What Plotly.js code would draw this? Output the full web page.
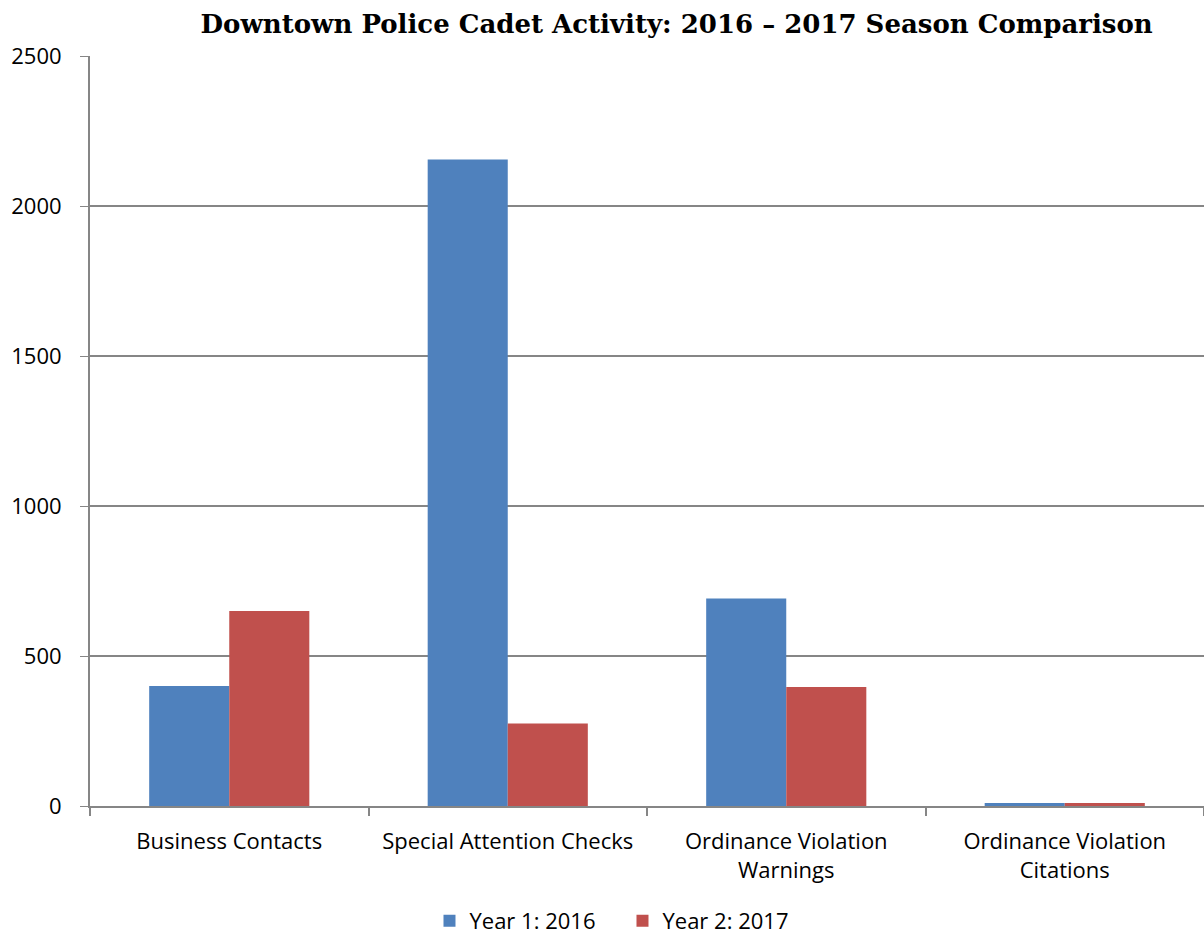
<!DOCTYPE html>
<html><head><meta charset="utf-8">
<script src="https://cdn.plot.ly/plotly-3.0.1.min.js"></script>
<style>html,body{margin:0;padding:0;background:#fff}#chart{width:1204px;height:942px}</style>
</head><body><div id="chart"></div>
<script>
var categories = ["Business Contacts", "Special Attention Checks", "Ordinance Violation<br>Warnings", "Ordinance Violation<br>Citations"];
var year2016 = [400, 2155, 692, 10];
var year2017 = [650, 275, 397, 10];
var seriesNames = ["Year 1: 2016", "Year 2: 2017"];
var yTicks = [0, 500, 1000, 1500, 2000, 2500];

var tickFont = {family: "Open Sans, Noto Sans, sans-serif", size: 22, color: "#000"};
var traces = [
  {type: "bar", name: seriesNames[0], x: categories, y: year2016, marker: {color: "#4F81BD"}},
  {type: "bar", name: seriesNames[1], x: categories, y: year2017, marker: {color: "#C0504D"}}
];
var layout = {
  width: 1204, height: 942,
  margin: {l: 90, r: 0, t: 56, b: 136},
  paper_bgcolor: "#fff", plot_bgcolor: "#fff",
  title: {text: "<b>Downtown Police Cadet Activity: 2016 – 2017 Season Comparison</b>",
          font: {family: "DejaVu Serif, Liberation Serif, serif", size: 26, color: "#000"},
          x: 0.562, xanchor: "center", y: 0.975, yanchor: "middle"},
  barmode: "group", bargap: 0.425, bargroupgap: 0,
  showlegend: true,
  legend: {orientation: "h", x: 0.478, xanchor: "center", yref: "container", y: 0, yanchor: "bottom",
           font: tickFont, itemwidth: 30, traceorder: "normal", entrywidth: 148, entrywidthmode: "pixels"},
  xaxis: {type: "category", showgrid: false, showline: true, linecolor: "#868686", linewidth: 2,
          ticks: "outside", ticklen: 8, tickcolor: "#868686", tickwidth: 1.5, automargin: false,
          tickson: "boundaries", tickfont: tickFont, zeroline: false, ticklabelstandoff: 15},
  yaxis: {range: [0, 2500], tickvals: yTicks, showgrid: true, gridcolor: "#868686", gridwidth: 1.5,
          showline: true, linecolor: "#868686", linewidth: 2, ticks: "outside", ticklen: 8, automargin: false,
          tickcolor: "#868686", tickfont: tickFont, zeroline: false, ticklabelstandoff: 14}
};
Plotly.newPlot("chart", traces, layout, {displayModeBar: false});
</script></body></html>
